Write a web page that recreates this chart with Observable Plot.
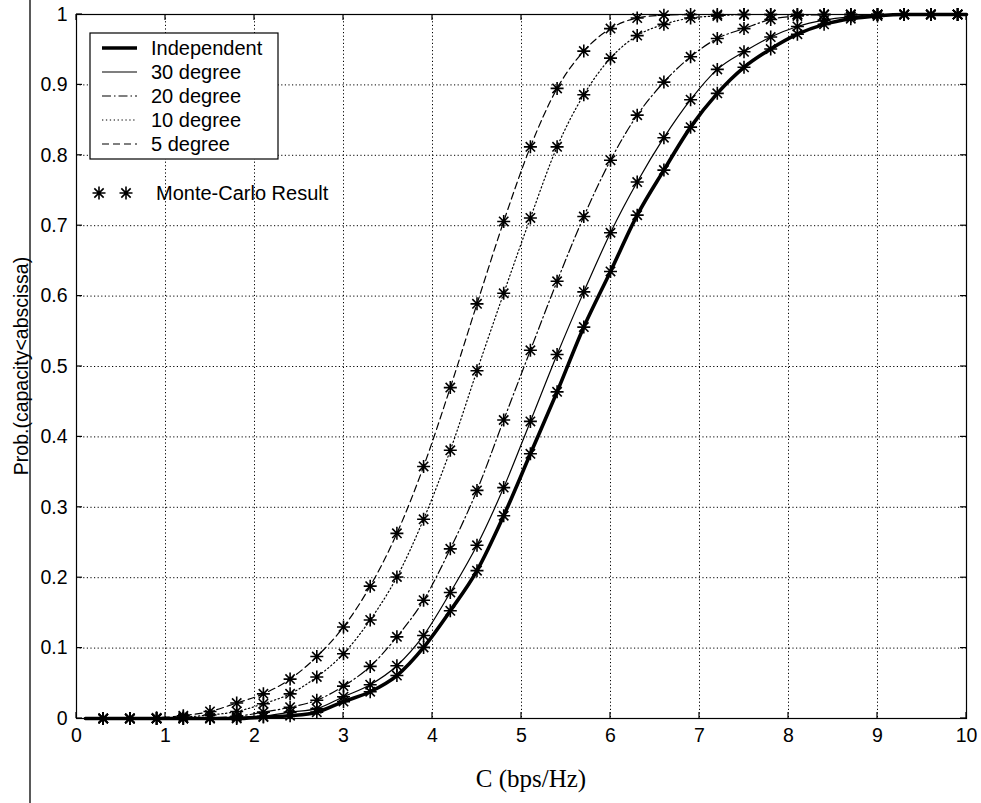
<!DOCTYPE html>
<html><head><meta charset="utf-8">
<script src="https://cdn.jsdelivr.net/npm/d3@7"></script>
<script src="https://cdn.jsdelivr.net/npm/@observablehq/plot@0.6"></script>
<style>
body{margin:0;background:#fff}
#chart{position:relative;width:981px;height:803px;background:#fff}
</style>
</head><body><div id="chart"></div>
<script>
// ---- data ----
const capacity = [0.3,0.6,0.9,1.2,1.5,1.8,2.1,2.4,2.7,3.0,3.3,3.6,3.9,4.2,4.5,4.8,5.1,5.4,5.7,6.0,6.3,6.6,6.9,7.2,7.5,7.8,8.1,8.4,8.7,9.0,9.3,9.6,9.9];
const independent = [0,0,0,0,0,0,0.002,0.004,0.009,0.024,0.038,0.061,0.101,0.153,0.210,0.288,0.376,0.464,0.556,0.635,0.715,0.779,0.840,0.888,0.925,0.951,0.972,0.986,0.994,0.998,1,1,1];
const deg30 = [0,0,0,0,0,0.001,0.003,0.009,0.014,0.031,0.048,0.075,0.118,0.179,0.246,0.328,0.422,0.517,0.606,0.690,0.762,0.825,0.879,0.922,0.947,0.968,0.983,0.992,0.997,1,1,1,1];
const deg20 = [0,0,0,0,0.001,0.003,0.009,0.016,0.026,0.046,0.074,0.116,0.168,0.241,0.324,0.424,0.523,0.621,0.713,0.793,0.857,0.904,0.940,0.966,0.980,0.993,0.998,1,1,1,1,1,1];
const deg10 = [0,0,0,0.002,0.005,0.010,0.021,0.035,0.059,0.092,0.140,0.201,0.283,0.381,0.494,0.604,0.711,0.812,0.886,0.938,0.970,0.986,0.995,0.998,1,1,1,1,1,1,1,1,1];
const deg5 = [0,0,0.001,0.004,0.010,0.022,0.035,0.056,0.088,0.130,0.188,0.263,0.358,0.470,0.589,0.706,0.812,0.895,0.948,0.980,0.995,0.999,1,1,1,1,1,1,1,1,1,1,1];
const lineStart = [0.1, 0];
const lineEnd = [10, 1];
const seriesNames = ["Independent","30 degree","20 degree","10 degree","5 degree"];
const seriesValues = [independent, deg30, deg20, deg10, deg5];
const xTicks = [0,1,2,3,4,5,6,7,8,9,10];
const yTicks = [0,0.1,0.2,0.3,0.4,0.5,0.6,0.7,0.8,0.9,1];
const xLabel = "C (bps/Hz)";
const yLabel = "Prob.(capacity<abscissa)";
const mcLabel = "Monte-Carlo Result";

// ---- styles ----
const lineStyles = [
  {strokeWidth: 3.6, strokeDasharray: null},
  {strokeWidth: 1.2, strokeDasharray: null},
  {strokeWidth: 1.2, strokeDasharray: "9,3,1.5,3"},
  {strokeWidth: 1.2, strokeDasharray: "1.3,2.6"},
  {strokeWidth: 1.2, strokeDasharray: "7,4"}
];
const SANS = "'Liberation Sans', Arial, Helvetica, sans-serif";
const SERIF = "'Liberation Serif', 'Times New Roman', serif";

const star = {
  draw(ctx, size) {
    const r = Math.sqrt(size / Math.PI);
    const d = r * 0.72;
    ctx.moveTo(-r, 0); ctx.lineTo(r, 0);
    ctx.moveTo(0, -r); ctx.lineTo(0, r);
    ctx.moveTo(-d, -d); ctx.lineTo(d, d);
    ctx.moveTo(-d, d); ctx.lineTo(d, -d);
  }
};

const markerRows = [];
seriesNames.forEach((name, i) => {
  capacity.forEach((c, j) => markerRows.push({series: name, x: c, y: seriesValues[i][j]}));
});
const lineRows = seriesNames.map((name, i) => [
  {x: lineStart[0], y: lineStart[1]},
  ...capacity.map((c, j) => ({x: c, y: seriesValues[i][j]})),
  {x: lineEnd[0], y: lineEnd[1]}
]);

const svg = Plot.plot({
  width: 981,
  height: 803,
  marginLeft: 76,
  marginRight: 15,
  marginTop: 14,
  marginBottom: 85,
  style: {fontFamily: SANS, fontSize: "19.5px", background: "#fff", color: "#000"},
  x: {domain: [0, 10]},
  y: {domain: [0, 1]},
  marks: [
    Plot.gridX(xTicks, {stroke: "#000", strokeOpacity: 1, strokeWidth: 1, strokeDasharray: "1.2,2.4"}),
    Plot.gridY(yTicks, {stroke: "#000", strokeOpacity: 1, strokeWidth: 1, strokeDasharray: "1.2,2.4"}),
    ...lineRows.map((rows, i) => Plot.line(rows, {
      x: "x", y: "y", curve: "monotone-x", stroke: "#000",
      strokeWidth: lineStyles[i].strokeWidth,
      strokeDasharray: lineStyles[i].strokeDasharray
    })),
    Plot.dot(markerRows, {x: "x", y: "y", symbol: star, r: 6.5, fill: "none", stroke: "#000", strokeWidth: 1.6}),
    Plot.frame({stroke: "#000", strokeWidth: 1.2}),
    Plot.axisX(xTicks, {tickSize: 0, tickPadding: 10, label: null, tickFormat: d => String(d), fontSize: 19.5}),
    Plot.axisY(yTicks, {tickSize: 0, tickPadding: 9, label: null, tickFormat: d => String(d), fontSize: 19.5})
  ]
});

document.getElementById("chart").appendChild(svg);

const sx = svg.scale("x"), sy = svg.scale("y");
const [x0, x1] = sx.range;
const [y0, y1] = sy.range; // y0 bottom, y1 top
const g = d3.select(svg).append("g").attr("stroke", "#000").attr("stroke-width", 1.2);
const tk = 6;
xTicks.forEach(v => {
  const px = sx.apply(v);
  g.append("line").attr("x1", px).attr("x2", px).attr("y1", y0).attr("y2", y0 - tk);
  g.append("line").attr("x1", px).attr("x2", px).attr("y1", y1).attr("y2", y1 + tk);
});
yTicks.forEach(v => {
  const py = sy.apply(v);
  g.append("line").attr("y1", py).attr("y2", py).attr("x1", x0).attr("x2", x0 + tk);
  g.append("line").attr("y1", py).attr("y2", py).attr("x1", x1).attr("x2", x1 - tk);
});

// scan page border
d3.select(svg).append("line").attr("x1", 30).attr("x2", 30).attr("y1", 0).attr("y2", 803)
  .attr("stroke", "#000").attr("stroke-width", 1.3);

// axis titles
d3.select(svg).append("text").text(xLabel)
  .attr("x", (x0 + x1) / 2 + 10).attr("y", 787)
  .attr("text-anchor", "middle").attr("font-family", SERIF).attr("font-size", 25).attr("fill", "#000");
d3.select(svg).append("text").text(yLabel)
  .attr("transform", `translate(28,${(y0 + y1) / 2}) rotate(-90)`)
  .attr("text-anchor", "middle").attr("font-family", SANS).attr("font-size", 19.5).attr("fill", "#000");

// legend
const lg = d3.select(svg).append("g").attr("text-anchor", "start");
lg.append("rect").attr("x", 90).attr("y", 33).attr("width", 188).attr("height", 126)
  .attr("fill", "#fff").attr("stroke", "#000").attr("stroke-width", 1.2);
seriesNames.forEach((name, i) => {
  const cy = 48 + i * 24;
  lg.append("line").attr("x1", 102).attr("x2", 137).attr("y1", cy).attr("y2", cy)
    .attr("stroke", "#000").attr("stroke-width", lineStyles[i].strokeWidth)
    .attr("stroke-dasharray", lineStyles[i].strokeDasharray);
  lg.append("text").text(name).attr("x", 151).attr("y", cy + 6.5).attr("text-anchor", "start")
    .attr("font-family", SANS).attr("font-size", 20).attr("fill", "#000");
});
const starPath = d3.symbol(star, Math.PI * 6.5 * 6.5)();
[99, 126].forEach(px => {
  lg.append("path").attr("d", starPath).attr("transform", `translate(${px},193)`)
    .attr("fill", "none").attr("stroke", "#000").attr("stroke-width", 1.6);
});
lg.append("text").text(mcLabel).attr("x", 156).attr("y", 199.5).attr("text-anchor", "start")
  .attr("font-family", SANS).attr("font-size", 20).attr("fill", "#000");
</script>
</body></html>
